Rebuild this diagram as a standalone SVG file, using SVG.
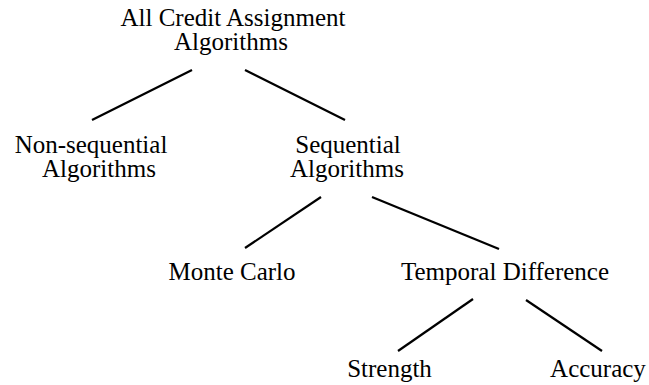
<svg xmlns="http://www.w3.org/2000/svg" width="649" height="385" viewBox="0 0 649 385">
<style>
text{font-family:"Liberation Serif","Times New Roman",serif;font-size:25px;fill:#000;text-anchor:middle}
.c line{stroke:#000;stroke-width:2.2;stroke-linecap:butt}
</style>
<rect width="649" height="385" fill="#fff"/>
<g class="c" id="connectors">
<line x1="192" y1="70" x2="92" y2="120"/>
<line x1="245" y1="70" x2="345" y2="120"/>
<line x1="321" y1="197" x2="245" y2="248"/>
<line x1="372" y1="197" x2="499" y2="249"/>
<line x1="473" y1="299" x2="398" y2="351"/>
<line x1="526" y1="300" x2="602" y2="351"/>
</g>
<g id="root"><text x="233" y="26">All Credit Assignment</text><text x="231" y="50">Algorithms</text></g>
<g id="nonseq"><text x="91" y="153">Non-sequential</text><text x="99" y="177">Algorithms</text></g>
<g id="seq"><text x="348" y="153">Sequential</text><text x="347" y="177">Algorithms</text></g>
<g id="montecarlo"><text x="232" y="280">Monte Carlo</text></g>
<g id="td"><text x="505" y="280">Temporal Difference</text></g>
<g id="strength"><text x="389.5" y="377">Strength</text></g>
<g id="accuracy"><text x="598" y="377">Accuracy</text></g>
</svg>
